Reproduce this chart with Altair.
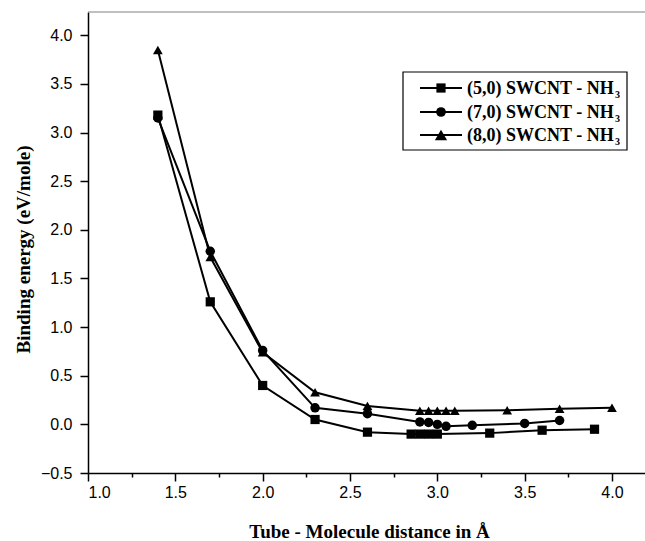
import altair as alt
import pandas as pd

# ---- data ----
series_names = ["(5,0) SWCNT - NH3", "(7,0) SWCNT - NH3", "(8,0) SWCNT - NH3"]
x5 = [1.4, 1.7, 2.0, 2.3, 2.6, 2.85, 2.9, 2.95, 3.0, 3.3, 3.6, 3.9]
y5 = [3.18, 1.26, 0.40, 0.05, -0.08, -0.10, -0.10, -0.10, -0.10, -0.09, -0.06, -0.05]
x7 = [1.4, 1.7, 2.0, 2.3, 2.6, 2.9, 2.95, 3.0, 3.05, 3.2, 3.5, 3.7]
y7 = [3.15, 1.78, 0.76, 0.17, 0.11, 0.025, 0.02, 0.0, -0.02, -0.01, 0.01, 0.04]
x8 = [1.4, 1.7, 2.0, 2.3, 2.6, 2.9, 2.95, 3.0, 3.05, 3.1, 3.4, 3.7, 4.0]
y8 = [3.85, 1.72, 0.74, 0.33, 0.19, 0.14, 0.14, 0.14, 0.14, 0.14, 0.145, 0.16, 0.17]
x_ticks = [1.0, 1.25, 1.5, 1.75, 2.0, 2.25, 2.5, 2.75, 3.0, 3.25, 3.5, 3.75, 4.0]
y_ticks = [-0.5, -0.25, 0.0, 0.25, 0.5, 0.75, 1.0, 1.25, 1.5, 1.75, 2.0, 2.25,
           2.5, 2.75, 3.0, 3.25, 3.5, 3.75, 4.0]
legend_labels = ["(5,0) SWCNT - NH", "(7,0) SWCNT - NH", "(8,0) SWCNT - NH"]
shapes = ["square", "circle", "triangle-up"]
marker_sizes = [85, 95, 150]

rows = []
for name, xs, ys in zip(series_names, [x5, x7, x8], [y5, y7, y8]):
    for xv, yv in zip(xs, ys):
        rows.append({"series": name, "x": xv, "y": yv})
df = pd.DataFrame(rows)

W, H = 557, 461
xscale = alt.Scale(domain=[1.0, 4.189], nice=False, zero=False)
yscale = alt.Scale(domain=[-0.5, 4.24], nice=False, zero=False)

common = dict(
    labelExpr="datum.value % 0.5 == 0 ? format(datum.value, '.1f') : ''",
    tickSize={"condition": {"test": "datum.value % 0.5 == 0", "value": 8}, "value": 4},
    labelFont="Liberation Sans", labelFontSize=16, labelColor="black",
    titleFont="Liberation Serif", titleFontWeight="bold", titleFontSize=19,
    titleColor="black", grid=False,
    domainColor="black", domainWidth=1.5, tickColor="black", tickWidth=1.5,
)
xaxis = alt.Axis(
    values=x_ticks, labelPadding=3,
    title="Tube - Molecule distance in Å",
    titleX=281, titleY=64, titleAnchor="middle", titleAlign="center",
    titleBaseline="alphabetic", **common,
)
yaxis = alt.Axis(
    values=y_ticks, labelPadding=8,
    title="Binding energy (eV/mole)",
    titleX=-59, titleY=237, titleAngle=-90, titleAlign="center",
    titleBaseline="alphabetic", **common,
)

base = alt.Chart(df)
lines = base.mark_line(color="black", strokeWidth=2).encode(
    x=alt.X("x:Q", scale=xscale, axis=xaxis),
    y=alt.Y("y:Q", scale=yscale, axis=yaxis),
    detail="series:N",
)
points = base.mark_point(filled=True, color="black", opacity=1).encode(
    x=alt.X("x:Q", scale=xscale),
    y=alt.Y("y:Q", scale=yscale),
    shape=alt.Shape("series:N", scale=alt.Scale(domain=series_names, range=shapes), legend=None),
    size=alt.Size("series:N", scale=alt.Scale(domain=series_names, range=marker_sizes), legend=None),
)

one = pd.DataFrame({"a": [0]})
top_border = alt.Chart(one).mark_rule(color="#808080", strokeWidth=1).encode(
    x=alt.value(0), x2=alt.value(W), y=alt.value(0)
)

# ---- hand-built legend ----
legend_layers = [
    alt.Chart(one).mark_rect(fill="white", stroke="black", strokeWidth=1.2).encode(
        x=alt.value(315), x2=alt.value(539), y=alt.value(60), y2=alt.value(138)
    )
]
row_y = [76, 100, 123]
for lbl, shp, sz, ry in zip(legend_labels, shapes, marker_sizes, row_y):
    legend_layers.append(
        alt.Chart(one).mark_rule(color="black", strokeWidth=2).encode(
            x=alt.value(332), x2=alt.value(374), y=alt.value(ry)
        )
    )
    legend_layers.append(
        alt.Chart(one).mark_point(filled=True, color="black", opacity=1, size=sz, shape=shp).encode(
            x=alt.value(353), y=alt.value(ry)
        )
    )
    legend_layers.append(
        alt.Chart(one).mark_text(
            text=lbl, align="left", baseline="middle", font="Liberation Serif",
            fontWeight="bold", fontSize=18, color="black"
        ).encode(x=alt.value(379), y=alt.value(ry + 1))
    )
    legend_layers.append(
        alt.Chart(one).mark_text(
            text="3", align="left", baseline="middle", font="Liberation Serif",
            fontWeight="bold", fontSize=10, color="black"
        ).encode(x=alt.value(527), y=alt.value(ry + 7))
    )

chart = alt.layer(top_border, lines, points, *legend_layers).properties(
    width=W, height=H,
    autosize=alt.AutoSizeParams(type="none"),
    padding={"left": 88, "top": 12, "right": 0, "bottom": 68},
    background="white",
).configure_view(stroke=None)

chart.save("out.html", embed_options={"renderer": "svg", "actions": False})
